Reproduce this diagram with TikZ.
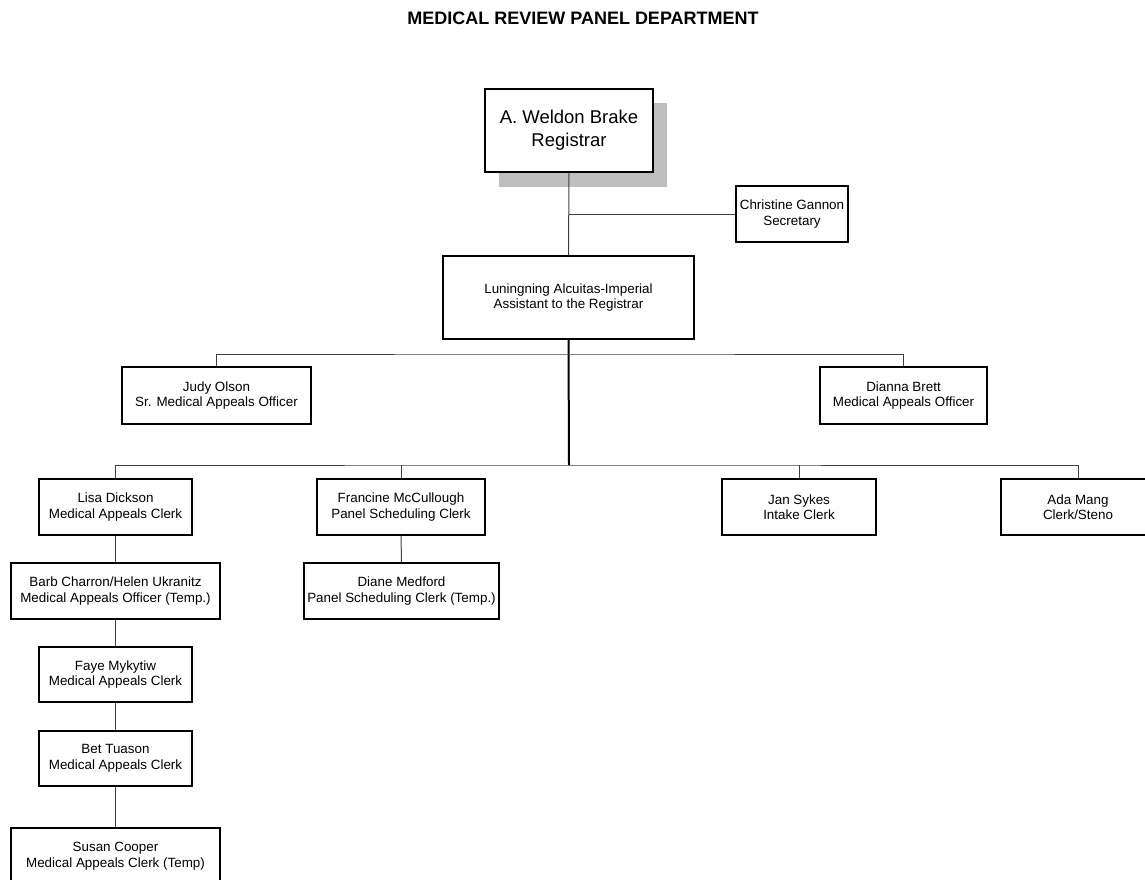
\documentclass[tikz,border=0pt]{standalone}
\usepackage{fontspec}
\setmainfont{Liberation Sans}
\begin{document}
\begin{tikzpicture}[x=1pt,y=-1pt,
  box/.style={draw=black,line width=1.2pt,fill=white,rectangle,inner sep=0pt,align=center,
    font=\fontsize{13.4}{15.5}\selectfont},
  conn/.style={draw=black!75,line width=1pt},
  trunk/.style={draw=black,line width=2pt}]
\useasboundingbox (0,0) rectangle (1145,880);
\clip (0,0) rectangle (1145,880);
\node[font=\bfseries\fontsize{18}{20}\selectfont] (title) at (583,18.5) {MEDICAL REVIEW PANEL DEPARTMENT};
% shadow
\fill[black!25] (499,103) rectangle (667,187);
\node[box,minimum width=168pt,minimum height=83pt,font=\fontsize{18.5}{23}\selectfont] (brake) at (569,130.5) {A. Weldon Brake\\Registrar};
\node[box,minimum width=112pt,minimum height=56pt] (chris) at (792,214) {Christine Gannon\\Secretary};
\node[box,minimum width=251pt,minimum height=83pt] (lun) at (568.5,297.5) {Luningning Alcuitas-Imperial\\Assistant to the Registrar};
\node[box,minimum width=189pt,minimum height=57pt] (judy) at (216.5,395.5) {Judy Olson\\Sr. Medical Appeals Officer};
\node[box,minimum width=167pt,minimum height=57pt] (dianna) at (903.5,395.5) {Dianna Brett\\Medical Appeals Officer};
\node[box,minimum width=153pt,minimum height=56pt] (lisa) at (115.5,507) {Lisa Dickson\\Medical Appeals Clerk};
\node[box,minimum width=168pt,minimum height=56pt] (fran) at (401,507) {Francine McCullough\\Panel Scheduling Clerk};
\node[box,minimum width=154pt,minimum height=56pt] (jan) at (799,507) {Jan Sykes\\Intake Clerk};
\node[box,minimum width=154pt,minimum height=56pt] (ada) at (1078,507) {Ada Mang\\Clerk/Steno};
\node[box,minimum width=209pt,minimum height=56pt] (barb) at (115.5,591) {Barb Charron/Helen Ukranitz\\Medical Appeals Officer (Temp.)};
\node[box,minimum width=195pt,minimum height=56pt] (diane) at (401.5,591) {Diane Medford\\Panel Scheduling Clerk (Temp.)};
\node[box,minimum width=153pt,minimum height=55pt] (faye) at (115.5,674.5) {Faye Mykytiw\\Medical Appeals Clerk};
\node[box,minimum width=153pt,minimum height=55pt] (bet) at (115.5,758.5) {Bet Tuason\\Medical Appeals Clerk};
\node[box,minimum width=209pt,minimum height=56pt] (susan) at (115.5,856) {Susan Cooper\\Medical Appeals Clerk (Temp)};
% junctions
\coordinate (j1) at (569,214);
\coordinate (h1) at (569,354);
\coordinate (h2) at (569,465);
\draw[conn] (brake.south) -- (lun.north);
\draw[conn] (j1) -- (chris.west);
\draw[trunk] (lun.south) -- (h2);
\draw[conn] (judy.north) |- (h1) -| (dianna.north);
\draw[conn] (lisa.north) |- (h2) -| (ada.north);
\draw[conn] (fran.north) -- (fran.north |- h2);
\draw[conn] (jan.north) -- (jan.north |- h2);
\draw[conn] (lisa.south) -- (barb.north);
\draw[conn] (barb.south) -- (faye.north);
\draw[conn] (faye.south) -- (bet.north);
\draw[conn] (bet.south) -- (susan.north);
\draw[conn] (fran.south) -- (diane.north);
\end{tikzpicture}
\end{document}
